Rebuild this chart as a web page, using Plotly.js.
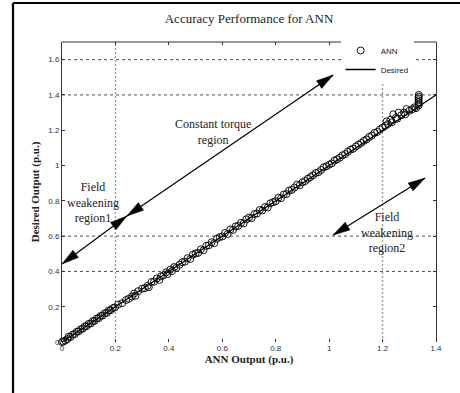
<!DOCTYPE html>
<html>
<head>
<meta charset="utf-8">
<script src="https://cdn.plot.ly/plotly-3.0.1.min.js"></script>
<style>html,body{margin:0;padding:0;background:#fff;}#chart{width:460px;height:393px;}</style>
</head>
<body>
<div id="chart"></div>
<script>
// ANN output (x) vs desired output (y)
const annX = [0.000,0.005,0.012,0.020,0.025,0.032,0.040,0.048,0.055,0.062,0.070,0.078,0.085,0.092,0.100,0.108,0.115,0.122,0.130,0.138,0.145,0.152,0.160,0.168,0.175,0.182,0.190,0.198,0.210,0.225,0.240,0.250,0.262,0.270,0.275,0.285,0.300,0.310,0.320,0.325,0.335,0.345,0.355,0.365,0.370,0.380,0.390,0.395,0.405,0.412,0.420,0.428,0.440,0.450,0.460,0.470,0.480,0.490,0.500,0.510,0.520,0.530,0.540,0.550,0.560,0.570,0.580,0.590,0.600,0.610,0.620,0.630,0.640,0.650,0.660,0.670,0.680,0.690,0.700,0.710,0.720,0.730,0.740,0.750,0.760,0.770,0.780,0.790,0.800,0.810,0.820,0.830,0.840,0.850,0.860,0.870,0.880,0.890,0.900,0.910,0.920,0.930,0.940,0.950,0.960,0.970,0.980,0.990,1.000,1.010,1.020,1.030,1.040,1.050,1.060,1.070,1.080,1.090,1.100,1.110,1.120,1.130,1.140,1.150,1.160,1.170,1.180,1.190,1.200,1.210,1.215,1.220,1.230,1.235,1.240,1.250,1.255,1.260,1.270,1.280,1.285,1.290,1.300,1.310,1.320,1.325,1.335,1.335,1.335,1.335,1.335,1.335,1.335];
const annY = [0.000,0.003,0.008,0.016,0.030,0.028,0.042,0.045,0.058,0.060,0.072,0.076,0.088,0.090,0.103,0.105,0.118,0.120,0.133,0.136,0.148,0.150,0.163,0.165,0.178,0.180,0.192,0.196,0.212,0.220,0.238,0.245,0.258,0.275,0.262,0.288,0.302,0.305,0.318,0.310,0.340,0.342,0.360,0.352,0.372,0.378,0.395,0.385,0.410,0.402,0.425,0.420,0.438,0.452,0.455,0.475,0.470,0.495,0.502,0.505,0.525,0.520,0.545,0.548,0.565,0.560,0.585,0.595,0.598,0.618,0.612,0.638,0.635,0.655,0.658,0.675,0.672,0.695,0.705,0.702,0.725,0.728,0.748,0.745,0.765,0.762,0.786,0.792,0.798,0.818,0.815,0.836,0.838,0.858,0.862,0.875,0.892,0.888,0.905,0.912,0.925,0.935,0.945,0.958,0.962,0.975,0.990,0.996,1.005,1.012,1.028,1.035,1.045,1.058,1.065,1.078,1.090,1.095,1.108,1.118,1.128,1.140,1.148,1.162,1.170,1.185,1.190,1.205,1.215,1.225,1.250,1.235,1.260,1.245,1.290,1.270,1.265,1.300,1.285,1.300,1.290,1.320,1.310,1.318,1.330,1.325,1.340,1.350,1.360,1.370,1.380,1.390,1.400];
const desiredX = [0, 1.4];
const desiredY = [0, 1.4];
const tickVals = [0, 0.2, 0.4, 0.6, 0.8, 1, 1.2, 1.4];
const yTickVals = [0, 0.2, 0.4, 0.6, 0.8, 1, 1.2, 1.4, 1.6];
const tickText = ['0', '0.2', '0.4', '0.6', '0.8', '1', '1.2', '1.4'];
const yTickText = ['0', '0.2', '0.4', '0.6', '0.8', '1', '1.2', '1.4', '1.6'];
const hGrid = [0.4, 0.6, 1.4, 1.6];
const vGrid = [0.2, 1.2];
// double-headed arrows: [x1, y1, x2, y2] (data units)
const arrowConstTorque = [1.015, 1.513, 0.243, 0.714];
const arrowRegion1 = [0.0, 0.442, 0.243, 0.714];
const arrowRegion2 = [1.359, 0.929, 1.015, 0.606];
const labels = [
  {text: 'Constant torque<br>region', x: 0.565, y: 1.19},
  {text: 'Field<br>weakening<br>region1', x: 0.116, y: 0.79},
  {text: 'Field<br>weakening<br>region2', x: 1.217, y: 0.62}
];

const serif = 'Liberation Serif, Times New Roman, serif';
const sans = 'Liberation Sans, Arial, sans-serif';

const W = 460, H = 393;
const margin = {l: 62, r: 24, t: 42, b: 51};
const xRange = [0, 1.4], yRange = [0, 1.7];
const pxPerX = (W - margin.l - margin.r) / (xRange[1] - xRange[0]);
const pxPerY = (H - margin.t - margin.b) / (yRange[1] - yRange[0]);

const traces = [
  {x: annX, y: annY, type: 'scatter', mode: 'markers', name: 'ANN', cliponaxis: false,
   marker: {symbol: 'circle-open', size: 7, color: '#000', line: {width: 0.9, color: '#000'}}},
  {x: desiredX, y: desiredY, type: 'scatter', mode: 'lines', name: 'Desired',
   line: {color: '#000', width: 1.3}}
];

const shapes = [];
hGrid.forEach(v => shapes.push({type: 'line', xref: 'paper', x0: 0, x1: 1, yref: 'y', y0: v, y1: v,
  line: {color: '#222', width: 0.8, dash: '3px,3px'}, layer: 'below'}));
vGrid.forEach(v => shapes.push({type: 'line', yref: 'paper', y0: 0, y1: 1, xref: 'x', x0: v, x1: v,
  line: {color: '#999', width: 1.3, dash: '2px,2px'}, layer: 'below'}));
// top axis line
shapes.push({type: 'line', xref: 'paper', yref: 'paper', x0: 0, x1: 1, y0: 1, y1: 1, line: {color: '#333', width: 1}});
// outer figure frame (left & top)
shapes.push({type: 'line', xref: 'paper', yref: 'paper', x0: -0.131, x1: -0.131, y0: -0.2, y1: 1.13, line: {color: '#000', width: 2.2}});
shapes.push({type: 'line', xref: 'paper', yref: 'paper', x0: -0.131, x1: 1.1, y0: 1.13, y1: 1.13, line: {color: '#000', width: 2.2}});

// arrow head as a pixel-sized triangle anchored at the tip
function head(tipX, tipY, fromX, fromY) {
  const dx = (tipX - fromX) * pxPerX, dy = (tipY - fromY) * pxPerY;
  const len = Math.hypot(dx, dy), ux = dx / len, uy = dy / len;
  const nx = -uy, ny = ux, L = 17, hw = 4.6;
  const p1 = [-L * ux + hw * nx, -L * uy + hw * ny];
  const p2 = [-L * ux - hw * nx, -L * uy - hw * ny];
  return {type: 'path', xref: 'x', yref: 'y', xsizemode: 'pixel', ysizemode: 'pixel',
    xanchor: tipX, yanchor: tipY,
    path: `M0,0L${p1[0].toFixed(2)},${p1[1].toFixed(2)}L${p2[0].toFixed(2)},${p2[1].toFixed(2)}Z`,
    fillcolor: '#000', line: {color: '#000', width: 0.5}};
}
[arrowConstTorque, arrowRegion1, arrowRegion2].forEach(a => {
  shapes.push({type: 'line', xref: 'x', yref: 'y', x0: a[0], y0: a[1], x1: a[2], y1: a[3],
    line: {color: '#000', width: 1.2}});
  shapes.push(head(a[0], a[1], a[2], a[3]));
  shapes.push(head(a[2], a[3], a[0], a[1]));
});

const annotations = labels.map(l => ({
  x: l.x, y: l.y, xref: 'x', yref: 'y', text: l.text, showarrow: false, align: 'center',
  font: {family: serif, size: 12, color: '#222'}
}));

const layout = {
  width: W, height: H,
  margin: margin,
  paper_bgcolor: '#fff', plot_bgcolor: '#fff',
  title: {text: 'Accuracy Performance for ANN', font: {family: serif, size: 13, color: '#222'},
          x: 0.5, xref: 'paper', y: 0.954, yref: 'container', yanchor: 'middle'},
  xaxis: {range: xRange, autorange: false, tickvals: tickVals, ticktext: tickText,
          ticks: 'inside', ticklen: 3, tickcolor: '#333', mirror: 'ticks', showline: false,
          showgrid: false, zeroline: false, tickfont: {family: sans, size: 8, color: '#333'},
          title: {text: '<b>ANN Output (p.u.)</b>', font: {family: serif, size: 11, color: '#222'}, standoff: 2}},
  yaxis: {range: yRange, autorange: false, tickvals: yTickVals, ticktext: yTickText,
          ticks: 'inside', ticklen: 3, tickcolor: '#333', mirror: 'ticks', showline: true, linecolor: '#333', linewidth: 1,
          showgrid: false, zeroline: false, tickfont: {family: sans, size: 8, color: '#333'},
          title: {text: '<b>Desired Output (p.u.)</b>', font: {family: serif, size: 11, color: '#222'}, standoff: 6}},
  showlegend: true,
  legend: {x: 0.745, y: 1.02, xanchor: 'left', yanchor: 'top', bgcolor: '#fff', borderwidth: 0,
           font: {family: sans, size: 8, color: '#222'}, itemwidth: 30, tracegroupgap: 0},
  shapes: shapes,
  annotations: annotations
};

Plotly.newPlot('chart', traces, layout, {displayModeBar: false, staticPlot: true});
</script>
</body>
</html>
